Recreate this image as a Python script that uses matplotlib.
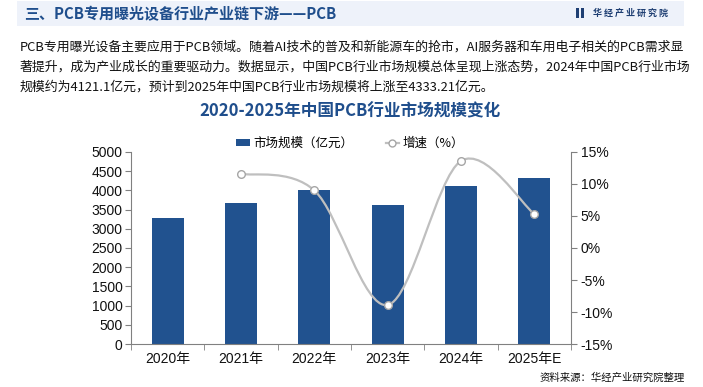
import numpy as np
import matplotlib
matplotlib.use("Agg")
import matplotlib.pyplot as plt
from matplotlib.patches import Rectangle
from matplotlib.lines import Line2D
from matplotlib.path import Path
from matplotlib.patches import PathPatch, Patch

plt.rcParams['font.family'] = ['Noto Sans CJK SC', 'DejaVu Sans']

years = ["2020年", "2021年", "2022年", "2023年", "2024年", "2025年E"]
market_size = [3291, 3662, 3998, 3628, 4121.1, 4333.21]
growth = [None, 11.6, 9.0, -8.9, 13.6, 5.3]

title = "三、PCB专用曝光设备行业产业链下游——PCB"
paragraph = ["PCB专用曝光设备主要应用于PCB领域。随着AI技术的普及和新能源车的抢市，AI服务器和车用电子相关的PCB需求显",
             "著提升，成为产业成长的重要驱动力。数据显示，中国PCB行业市场规模总体呈现上涨态势，2024年中国PCB行业市场",
             "规模约为4121.1亿元，预计到2025年中国PCB行业市场规模将上涨至4333.21亿元。"]
chart_title = "2020-2025年中国PCB行业市场规模变化"
source = "资料来源：华经产业研究院整理"

W, H = 703, 387
fig = plt.figure(figsize=(W/100, H/100), dpi=100)
fig.patch.set_facecolor("white")

def fx(x): return x / W
def fy(y): return 1 - y / H

BLUE = "#21528F"
TITLE_BLUE = "#1F4E8C"

# header band
fig.patches.append(Rectangle((fx(17), fy(26)), fx(684) - fx(17), fy(1) - fy(26),
                             transform=fig.transFigure, facecolor="#EEF2FA", edgecolor="none", zorder=0))
fig.text(fx(24), fy(14), title, fontsize=10.8, color=TITLE_BLUE, fontweight="bold", va="center", ha="left")
# logo
fig.patches.append(Rectangle((fx(576), fy(18)), fx(3) - fx(0), fy(8) - fy(18),
                             transform=fig.transFigure, facecolor="#1F3F73", edgecolor="none"))
fig.patches.append(Rectangle((fx(580.5), fy(18)), fx(3) - fx(0), fy(8) - fy(18),
                             transform=fig.transFigure, facecolor="#1F3F73", edgecolor="none"))
fig.text(fx(593), fy(13), "华 经 产 业 研 究 院", fontsize=6.5, color="#1F3F73",
         fontweight="bold", va="center", ha="left")

# paragraph
for i, line in enumerate(paragraph):
    fig.text(fx(20), fy(47 + 20 * i), line, fontsize=9.3, color="#111111", va="center", ha="left")

fig.text(fx(350), fy(111), chart_title, fontsize=12, color=TITLE_BLUE, fontweight="bold",
         va="center", ha="center")

# axes
ax = fig.add_axes([fx(131), fy(344), fx(571) - fx(131), fy(152) - fy(344)])
x = np.arange(len(years))
ax.bar(x, market_size, width=0.44, color=BLUE, zorder=2)
ax.set_xlim(-0.5, len(years) - 0.5)
ax.set_ylim(0, 5000)
ax.set_yticks(np.arange(0, 5001, 500))
ax.set_xticks(x)
ax.set_xticklabels(years)
ax.set_xticks(np.arange(-0.5, len(years), 1), minor=True)
ax.tick_params(axis="x", which="major", length=0, pad=6)
ax.tick_params(axis="x", which="minor", length=4, color="#808080", direction="out")
ax.tick_params(axis="y", length=4, color="#808080", direction="out", pad=2)
for lab in ax.get_xticklabels() + ax.get_yticklabels():
    lab.set_family(['Liberation Sans', 'Noto Sans CJK SC'])
    lab.set_fontsize(10)
    lab.set_color("#111111")
for s in ["top", "right"]:
    ax.spines[s].set_visible(False)
for s in ["left", "bottom"]:
    ax.spines[s].set_color("#808080")

ax2 = ax.twinx()
ax2.set_ylim(-15, 15)
ax2.set_yticks(np.arange(-15, 16, 5))
ax2.set_yticklabels([f"{v}%" for v in np.arange(-15, 16, 5)])
ax2.tick_params(axis="y", length=4, color="#808080", direction="out", pad=3)
for lab in ax2.get_yticklabels():
    lab.set_family(['Liberation Sans', 'Noto Sans CJK SC'])
    lab.set_fontsize(10)
    lab.set_color("#111111")
for s in ["top", "left", "bottom"]:
    ax2.spines[s].set_visible(False)
ax2.spines["right"].set_color("#808080")

# smoothed growth line (Catmull-Rom in display space, like Excel smoothing)
gx = np.array([i for i, g in enumerate(growth) if g is not None], dtype=float)
gy = np.array([g for g in growth if g is not None], dtype=float)
fig.canvas.draw()
pts = ax2.transData.transform(np.column_stack([gx, gy]))
verts = [pts[0]]
codes = [Path.MOVETO]
n = len(pts)
for i in range(n - 1):
    p0 = pts[i - 1] if i > 0 else pts[i]
    p1 = pts[i]
    p2 = pts[i + 1]
    p3 = pts[i + 2] if i + 2 < n else pts[i + 1]
    c1 = p1 + (p2 - p0) / 6.0
    c2 = p2 - (p3 - p1) / 6.0
    verts += [c1, c2, p2]
    codes += [Path.CURVE4] * 3
data_verts = ax2.transData.inverted().transform(np.array(verts))
path = Path(data_verts, codes)
ax2.add_patch(PathPatch(path, facecolor="none", edgecolor="#BFBFBF", lw=1.6, zorder=3))
ax2.plot(gx, gy, linestyle="none", marker="o", markersize=5.5, markerfacecolor="white",
         markeredgecolor="#A6A6A6", markeredgewidth=1.0, zorder=4)

# legend
handles = [Patch(facecolor=BLUE, edgecolor="none"),
           Line2D([0], [0], color="#BFBFBF", lw=1.6, marker="o", markersize=5,
                  markerfacecolor="white", markeredgecolor="#A6A6A6")]
leg = fig.legend(handles, ["市场规模（亿元）", "增速（%）"], loc="center",
                 bbox_to_anchor=(fx(350), fy(143)), ncol=2, frameon=False,
                 fontsize=9, handlelength=1.1, handleheight=0.5, columnspacing=2.6,
                 handletextpad=0.25)

fig.text(fx(685), fy(378), source, fontsize=7.5, color="#111111", va="center", ha="right")

fig.savefig("out.png", dpi=100)
